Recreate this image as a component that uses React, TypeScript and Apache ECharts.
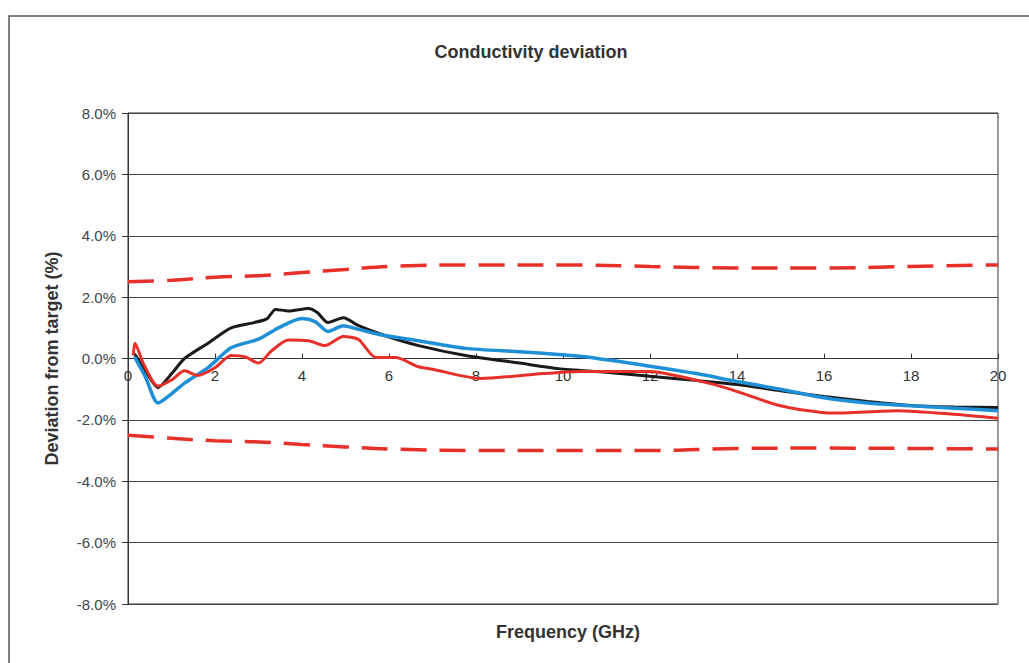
import React, { useEffect, useRef } from "react";
import * as echarts from "echarts";

const blackFreq = [0.15, 0.4, 0.69, 1.0, 1.3, 1.84, 2.37, 2.9, 3.2, 3.39, 3.69, 4.15, 4.35, 4.6, 4.95, 5.3, 5.9, 6.68, 7.76, 9.0, 9.9, 11, 12, 13.1, 14, 15, 16, 17, 18, 19, 20];
const blackVals = [0.15, -0.4, -0.95, -0.5, 0.0, 0.5, 1.0, 1.17, 1.3, 1.6, 1.55, 1.63, 1.5, 1.17, 1.33, 1.07, 0.75, 0.42, 0.1, -0.15, -0.33, -0.45, -0.58, -0.72, -0.85, -1.05, -1.24, -1.4, -1.53, -1.58, -1.6];

const blueFreq = [0.15, 0.4, 0.69, 1.0, 1.3, 1.84, 2.37, 3.0, 3.46, 4.0, 4.3, 4.6, 4.95, 5.3, 5.9, 6.68, 7.76, 9.0, 9.9, 10.4, 12, 13.1, 14, 15, 16, 17, 18, 19, 20];
const blueVals = [0.05, -0.6, -1.45, -1.15, -0.8, -0.3, 0.35, 0.63, 1.0, 1.3, 1.2, 0.88, 1.07, 0.95, 0.75, 0.58, 0.33, 0.22, 0.13, 0.07, -0.25, -0.5, -0.75, -1.0, -1.28, -1.45, -1.54, -1.62, -1.7];

const redFreq = [0.12, 0.16, 0.35, 0.69, 1.0, 1.3, 1.6, 2.0, 2.37, 2.7, 3.0, 3.3, 3.69, 4.15, 4.53, 4.95, 5.3, 5.7, 6.15, 6.68, 7.0, 8.1, 9.3, 10.4, 12.0, 13.1, 13.8, 15, 16.2, 17.7, 19, 20];
const redVals = [0.1, 0.5, -0.15, -0.9, -0.7, -0.4, -0.55, -0.3, 0.1, 0.05, -0.15, 0.25, 0.6, 0.58, 0.42, 0.72, 0.62, 0.03, 0.03, -0.27, -0.35, -0.65, -0.52, -0.42, -0.42, -0.72, -0.98, -1.54, -1.78, -1.7, -1.82, -1.95];

const limitFreq = [0, 1, 2, 3, 4, 5, 6, 8, 10, 12, 14, 16, 18, 20];
const upperLimit = [2.5, 2.55, 2.65, 2.7, 2.8, 2.9, 3.0, 3.05, 3.05, 3.0, 2.95, 2.95, 3.0, 3.05];
const lowerLimit = [-2.5, -2.6, -2.68, -2.72, -2.8, -2.88, -2.95, -3.0, -3.0, -3.0, -2.93, -2.92, -2.93, -2.95];

const yTicks = [-8, -6, -4, -2, 0, 2, 4, 6, 8];
const xTicks = [0, 2, 4, 6, 8, 10, 12, 14, 16, 18, 20];

const pairs = (xs: number[], ys: number[]) => xs.map((x, i) => [x, ys[i]]);

const FONT = "'Liberation Sans', Arial, sans-serif";
const GRID_TOP = 113;
const GRID_BOTTOM = 59;
const CHART_H = 663;

export default function App() {
  const ref = useRef<HTMLDivElement>(null);
  useEffect(() => {
    document.body.style.margin = "0";
    const chart = echarts.init(ref.current!, null, { renderer: "svg" });
    const yMin = yTicks[0];
    const yMax = yTicks[yTicks.length - 1];
    const plotH = CHART_H - GRID_TOP - GRID_BOTTOM;
    // distance from grid bottom to the zero line, derived from the axis range
    const zeroOffset = (plotH * (0 - yMin)) / (yMax - yMin);
    chart.setOption({
      animation: false,
      backgroundColor: "#fff",
      title: {
        text: "Conductivity deviation",
        left: 526,
        top: 38,
        textAlign: "center",
        textStyle: { fontFamily: FONT, fontSize: 18, fontWeight: "bold", color: "#333" },
      },
      grid: {
        left: 128,
        right: 31,
        top: GRID_TOP,
        bottom: GRID_BOTTOM,
        show: true,
        borderColor: "#333",
        borderWidth: 1,
        backgroundColor: "transparent",
      },
      graphic: [
        {
          type: "rect",
          shape: { x: 9, y: 16, width: 1040, height: 700 },
          style: { fill: "none", stroke: "#555", lineWidth: 1.5 },
        },
        {
          type: "text",
          x: 568,
          y: 632,
          style: {
            text: "Frequency (GHz)",
            fontFamily: FONT,
            fontSize: 18,
            fontWeight: "bold",
            fill: "#333",
            align: "center",
            verticalAlign: "middle",
          },
        },
      ],
      xAxis: {
        type: "value",
        position: "bottom",
        offset: -zeroOffset,
        min: xTicks[0],
        max: xTicks[xTicks.length - 1],
        interval: 2,
        axisLine: { onZero: false, lineStyle: { color: "#333", width: 1 } },
        axisTick: { show: true, inside: true, length: 5, lineStyle: { color: "#333" } },
        axisLabel: { fontFamily: FONT, fontSize: 15, color: "#333", margin: 9 },
        splitLine: { show: false },
      },
      yAxis: {
        type: "value",
        min: yMin,
        max: yMax,
        interval: 2,
        name: "Deviation from target (%)",
        nameLocation: "middle",
        nameGap: 67,
        nameTextStyle: { fontFamily: FONT, fontSize: 18, fontWeight: "bold", color: "#333" },
        axisLine: { show: true, onZero: false, lineStyle: { color: "#333", width: 1 } },
        axisTick: { show: true, inside: false, length: 6, lineStyle: { color: "#333" } },
        axisLabel: {
          fontFamily: FONT,
          fontSize: 15,
          color: "#444",
          margin: 12,
          formatter: (v: number) => v.toFixed(1) + "%",
        },
        splitLine: { show: true, lineStyle: { color: "#444", width: 1 } },
      },
      series: [
        {
          type: "line",
          name: "Upper limit",
          data: pairs(limitFreq, upperLimit),
          showSymbol: false,
          smooth: 0.4,
          lineStyle: { color: "#e8302a", width: 3.5, type: [26, 13] },
        },
        {
          type: "line",
          name: "Lower limit",
          data: pairs(limitFreq, lowerLimit),
          showSymbol: false,
          smooth: 0.4,
          lineStyle: { color: "#e8302a", width: 3.5, type: [26, 13] },
        },
        {
          type: "line",
          name: "Black",
          data: pairs(blackFreq, blackVals),
          showSymbol: false,
          smooth: 0.25,
          lineStyle: { color: "#1a1a1a", width: 3 },
        },
        {
          type: "line",
          name: "Blue",
          data: pairs(blueFreq, blueVals),
          showSymbol: false,
          smooth: 0.25,
          lineStyle: { color: "#1f8fd6", width: 3.5 },
        },
        {
          type: "line",
          name: "Red",
          data: pairs(redFreq, redVals),
          showSymbol: false,
          smooth: 0.25,
          lineStyle: { color: "#e8302a", width: 3 },
        },
      ],
    });
    return () => chart.dispose();
  }, []);
  return <div ref={ref} style={{ width: 1029, height: 663 }} />;
}
